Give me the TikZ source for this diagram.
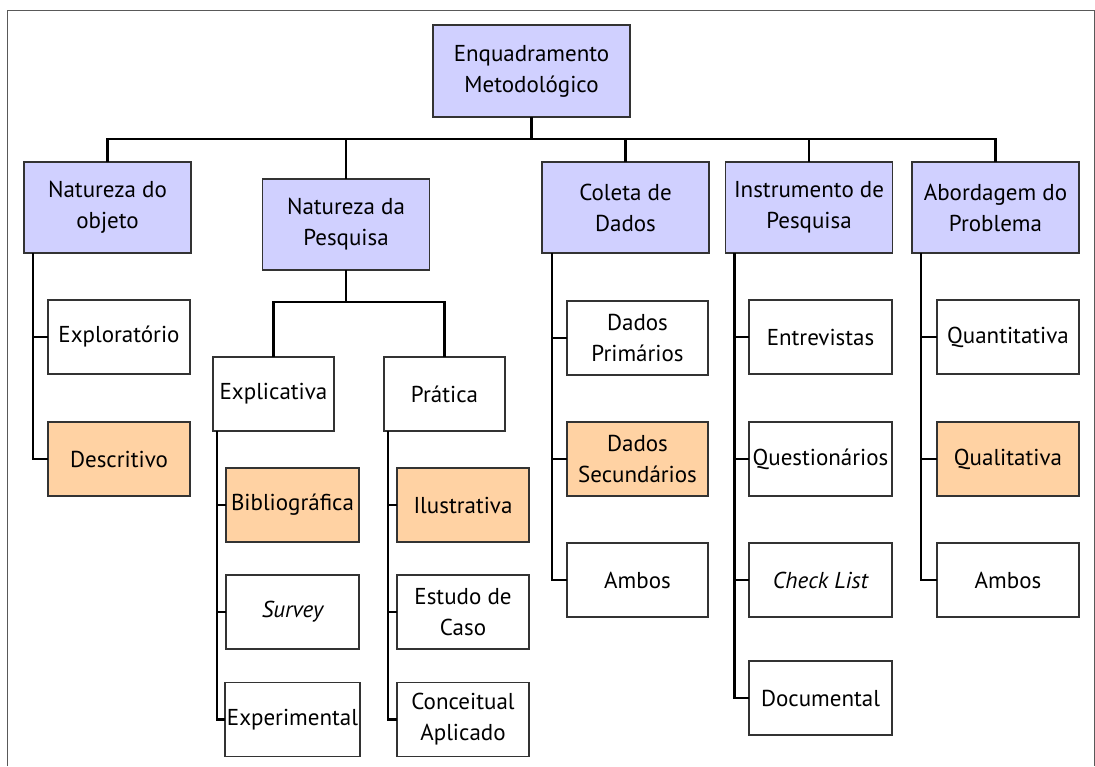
\documentclass[tikz,border=0pt]{standalone}
\usepackage{fontspec}
\setmainfont{PT Sans}
\definecolor{hdblue}{RGB}{208,208,255}
\definecolor{hlorange}{RGB}{255,210,163}
\begin{document}
\begin{tikzpicture}[x=0.5pt,y=-0.5pt,
  box/.style={draw=black!80, line width=0.6pt, align=center, inner sep=1pt, outer sep=0pt,
              font=\fontsize{11.5}{15.5}\selectfont},
  hd/.style={box, fill=hdblue, minimum width=83.5pt, minimum height=45.5pt},
  leaf/.style={box, fill=white, minimum height=37pt},
  hl/.style={fill=hlorange},
  conn/.style={line width=1.2pt, black}]
\useasboundingbox (0,0) rectangle (1095,766);
\draw[black!65, line width=0.5pt] (7,766) |- (1094,10) -- (1094,766);

% root and level 1
\node[box, fill=hdblue, minimum width=98.5pt, minimum height=46pt] (root) at (531.5,71) {Enquadramento\\Metodológico};
\node[hd] (nobj) at (107.5,207.5) {Natureza do\\objeto};
\node[hd] (npes) at (346,224.5) {Natureza da\\Pesquisa};
\node[hd] (col) at (625.5,207.5) {Coleta de\\Dados};
\node[hd] (ins) at (809,207.5) {Instrumento de\\Pesquisa};
\node[hd] (abo) at (995.5,207.5) {Abordagem do\\Problema};

% natureza do objeto
\node[leaf, minimum width=71pt] (explor) at (119,337) {Exploratório};
\node[leaf, hl, minimum width=71pt] (descr) at (119,459) {Descritivo};

% natureza da pesquisa
\node[leaf, minimum width=60.5pt] (explic) at (273.5,394) {Explicativa};
\node[leaf, minimum width=60.5pt] (prat) at (444.5,394) {Prática};
\node[leaf, hl, minimum width=66.5pt] (bibl) at (292.5,505) {Bibliográfica};
\node[leaf, minimum width=66.5pt] (surv) at (292.5,612) {\itshape Survey};
\node[leaf, minimum width=66.5pt] (expe) at (292.5,719.5) {Experimental};
\node[leaf, hl, minimum width=66pt] (ilus) at (463,505) {Ilustrativa};
\node[leaf, minimum width=66pt] (estu) at (463,612) {Estudo de\\Caso};
\node[leaf, minimum width=66pt] (conc) at (463,719.5) {Conceitual\\Aplicado};

% coleta de dados
\node[leaf, minimum width=70.5pt] (dpri) at (637.5,338) {Dados\\Primários};
\node[leaf, hl, minimum width=70.5pt] (dsec) at (637.5,459) {Dados\\Secundários};
\node[leaf, minimum width=70.5pt] (amb1) at (637.5,580) {Ambos};

% instrumento de pesquisa
\node[leaf, minimum width=71.5pt] (entr) at (820.5,337) {Entrevistas};
\node[leaf, minimum width=71.5pt] (ques) at (820.5,459) {Questionários};
\node[leaf, minimum width=71.5pt] (chec) at (820.5,580) {\itshape Check List};
\node[leaf, minimum width=71.5pt] (docu) at (820.5,698) {Documental};

% abordagem do problema
\node[leaf, minimum width=71pt] (quan) at (1008,337) {Quantitativa};
\node[leaf, hl, minimum width=71pt] (qual) at (1008,459) {Qualitativa};
\node[leaf, minimum width=71pt] (amb2) at (1008,580) {Ambos};

% connectors: root to level 1
\foreach \c in {nobj,npes,col,ins,abo}
  \draw[conn] (root.south) -- ++(0,22) -| (\c.north);
% natureza da pesquisa to explicativa / pratica
\foreach \c in {explic,prat}
  \draw[conn] (npes.south) -- ++(0,32) -| (\c.north);
% side trunks
\foreach \c in {explor,descr}
  \draw[conn] (nobj.south west) ++(9,0) |- (\c.west);
\foreach \c in {bibl,surv,expe}
  \draw[conn] (explic.south west) ++(4,0) |- (\c.west);
\foreach \c in {ilus,estu,conc}
  \draw[conn] (prat.south west) ++(4,0) |- (\c.west);
\foreach \c in {dpri,dsec,amb1}
  \draw[conn] (col.south west) ++(10,0) |- (\c.west);
\foreach \c in {entr,ques,chec,docu}
  \draw[conn] (ins.south west) ++(9,0) |- (\c.west);
\foreach \c in {quan,qual,amb2}
  \draw[conn] (abo.south west) ++(9,0) |- (\c.west);
\end{tikzpicture}
\end{document}
